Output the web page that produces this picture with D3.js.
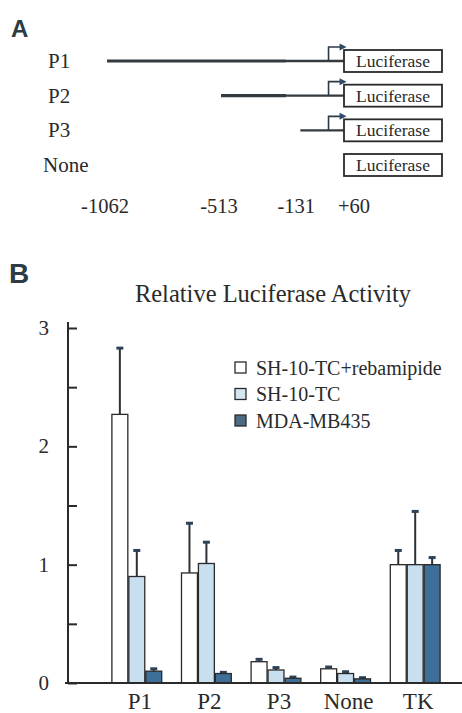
<!DOCTYPE html>
<html><head><meta charset="utf-8">
<script src="https://cdn.jsdelivr.net/npm/d3@7"></script>
<style>html,body{margin:0;padding:0;background:#fff}svg{display:block}
.serif{font-family:"Liberation Serif","Times New Roman","DejaVu Serif",serif}
.sans{font-family:"Liberation Sans",Arial,sans-serif}</style>
</head><body>
<script>
// ---- Panel A data ----
const constructs = ["P1", "P2", "P3", "None"];
const constructStarts = [-1062, -513, -131, null];
const positionTicks = [-1062, -513, -131, 60];
const positionLabels = ["-1062", "-513", "-131", "+60"];
const reporterLabel = "Luciferase";

// ---- Panel B data ----
const categories = ["P1", "P2", "P3", "None", "TK"];
const series = ["SH-10-TC+rebamipide", "SH-10-TC", "MDA-MB435"];
const rebaValues = [2.27, 0.93, 0.18, 0.12, 1.00];
const rebaErrors = [0.56, 0.42, 0.02, 0.015, 0.12];
const shValues = [0.90, 1.01, 0.11, 0.08, 1.00];
const shErrors = [0.22, 0.18, 0.02, 0.015, 0.45];
const mdaValues = [0.10, 0.08, 0.04, 0.035, 1.00];
const mdaErrors = [0.02, 0.01, 0.01, 0.01, 0.06];
const yTicks = [0, 1, 2, 3];
const chartTitle = "Relative Luciferase Activity";

const W = 462, H = 713;
const ink = "#2a2a2a";
const colors = ["#ffffff", "#c8dff0", "#3e6f98"];
const legendColors = ["#ffffff", "#d4e6f2", "#4d6c83"];

const svg = d3.select("body").append("svg").attr("width", W).attr("height", H);

// ================= Panel A =================
svg.append("text").attr("class", "sans").attr("x", 11).attr("y", 37).text("A")
  .attr("font-weight", "bold").attr("font-size", 24).attr("fill", "#2d3b45");

const xA = d3.scaleLinear().domain([-1062, 60]).range([107, 340]);
const yA = d3.scalePoint().domain(constructs).range([61, 165]);
const boxW = 98, boxH = 22;

const rowsA = svg.append("g").selectAll("g").data(constructs).join("g")
  .attr("transform", d => `translate(0,${yA(d)})`);

rowsA.append("text").attr("class", "serif").attr("x", d => d === "None" ? 43 : 48).attr("y", 7)
  .attr("font-size", 21).attr("fill", ink).text(d => d);

rowsA.each(function (d, i) {
  const g = d3.select(this);
  const s = constructStarts[i];
  const bx = xA(60) + 4;
  if (s !== null) {
    const mid = Math.max(xA(s), xA(-200));
    g.append("line").attr("x1", xA(s)).attr("x2", mid).attr("y1", 0).attr("y2", 0)
      .attr("stroke", "#333a40").attr("stroke-width", 3.2);
    g.append("line").attr("x1", mid).attr("x2", bx).attr("y1", 0).attr("y2", 0)
      .attr("stroke", "#333a40").attr("stroke-width", 2.4);
    const x0 = xA(0) + 1;
    g.append("path").attr("d", `M${x0},0 V-14 H${x0 + 12}`).attr("fill", "none")
      .attr("stroke", "#2e3a44").attr("stroke-width", 1.6);
    g.append("path").attr("d", `M${x0 + 18},-14 l-7,-3.5 v7 z`).attr("fill", "#2e4a66");
  }
  g.append("rect").attr("x", bx).attr("y", -boxH / 2).attr("width", boxW).attr("height", boxH)
    .attr("fill", "#fff").attr("stroke", ink).attr("stroke-width", 1.8);
  g.append("text").attr("class", "serif").attr("x", bx + boxW / 2).attr("y", 6)
    .attr("text-anchor", "middle").attr("font-size", 17.5)
    .attr("fill", ink).text(reporterLabel);
});

svg.append("g").selectAll("text").data(positionTicks).join("text").attr("class", "serif")
  .attr("x", (d, i) => xA(d) + (i === 3 ? 14 : (i === 2 ? -4 : -2))).attr("y", 213)
  .attr("text-anchor", "middle").attr("font-size", 20.5)
  .attr("fill", ink).text((d, i) => positionLabels[i]);

// ================= Panel B =================
svg.append("text").attr("class", "sans").attr("x", 9).attr("y", 283).text("B")
  .attr("font-weight", "bold").attr("font-size", 28).attr("fill", "#2d3b45");

svg.append("text").attr("class", "serif").attr("x", 273).attr("y", 302).attr("text-anchor", "middle")
  .attr("font-size", 24.5).attr("fill", ink).text(chartTitle);

const y = d3.scaleLinear().domain([0, 3]).range([683, 328]);
const x0 = d3.scaleBand().domain(categories).range([102, 450]).paddingInner(0.27).paddingOuter(0.135);
const x1 = d3.scaleBand().domain(series).range([0, x0.bandwidth()]);

const yAxis = d3.axisRight(y).tickValues(d3.range(0, 3.01, 0.5)).tickSize(9).tickFormat("");
const gy = svg.append("g").attr("transform", "translate(68,0)").call(yAxis);
gy.select(".domain").attr("d", `M0,${y(3) - 6}V${y(0)}`).attr("stroke", ink).attr("stroke-width", 2);
gy.selectAll(".tick line").attr("stroke", ink).attr("stroke-width", 2);
svg.append("g").selectAll("text").data(yTicks).join("text").attr("class", "serif")
  .attr("x", 49).attr("y", d => y(d) + 7).attr("text-anchor", "end")
  .attr("font-size", 21).attr("fill", ink).text(d => d);

const valueSets = [rebaValues, shValues, mdaValues];
const errorSets = [rebaErrors, shErrors, mdaErrors];
const barData = [];
categories.forEach((c, i) => series.forEach((s, j) => {
  barData.push({ c, s, j, v: valueSets[j][i], e: errorSets[j][i] });
}));

const gb = svg.append("g");
const bars = gb.selectAll("g").data(barData).join("g")
  .attr("transform", d => `translate(${x0(d.c) + x1(d.s)},0)`);

bars.append("line")
  .attr("x1", x1.bandwidth() / 2).attr("x2", x1.bandwidth() / 2)
  .attr("y1", d => y(d.v)).attr("y2", d => y(d.v + d.e))
  .attr("stroke", "#2c3238").attr("stroke-width", 2);
bars.append("rect")
  .attr("x", x1.bandwidth() / 2 - 3.5).attr("width", 7)
  .attr("y", d => y(d.v + d.e) - 1.5).attr("height", 3)
  .attr("fill", "#2d4256");
bars.append("rect")
  .attr("x", 0.5).attr("width", x1.bandwidth() - 1)
  .attr("y", d => y(d.v)).attr("height", d => y(0) - y(d.v))
  .attr("fill", d => colors[d.j]).attr("stroke", ink).attr("stroke-width", 1.3);

svg.append("line").attr("x1", 65).attr("x2", W).attr("y1", y(0)).attr("y2", y(0))
  .attr("stroke", ink).attr("stroke-width", 2.2);
svg.append("g").selectAll("text").data(categories).join("text").attr("class", "serif")
  .attr("x", d => x0(d) + x0.bandwidth() / 2 + 3).attr("y", 709)
  .attr("text-anchor", "middle").attr("font-size", 23)
  .attr("fill", ink).text(d => d);

const lg = svg.append("g").selectAll("g").data(series).join("g")
  .attr("transform", (d, i) => `translate(235,${368 + i * 26.5})`);
lg.append("rect").attr("x", 0).attr("y", -6).attr("width", 11).attr("height", 11)
  .attr("fill", (d, i) => legendColors[i]).attr("stroke", ink).attr("stroke-width", 1.3);
lg.append("text").attr("class", "serif").attr("x", 21).attr("y", 6.5).attr("font-size", 20)
  .attr("fill", ink).text(d => d);
</script>
</body></html>
